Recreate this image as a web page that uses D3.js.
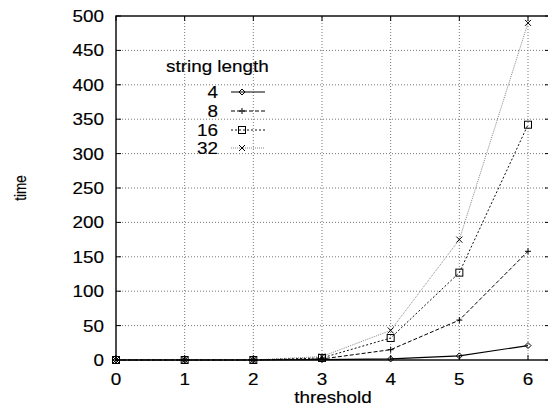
<!DOCTYPE html>
<html>
<head>
<meta charset="utf-8">
<script src="https://cdn.jsdelivr.net/npm/d3@7/dist/d3.min.js"></script>
<style>
  body { margin: 0; background: #fff; }
  svg { display: block; }
  text { font-family: "Liberation Sans", Arial, Helvetica, sans-serif; fill: #000; stroke: #000; stroke-width: 0.15px; }
</style>
</head>
<body>
<script>
// values
const threshold = [0, 1, 2, 3, 4, 5, 6];
const len4  = [0, 0, 0, 0.5, 1.5, 6, 21];
const len8  = [0, 0, 0, 1.5, 15, 58, 158];
const len16 = [0, 0, 0, 3, 32, 127, 342];
const len32 = [0, 0, 0, 5, 43, 175, 490];
const seriesNames = ["4", "8", "16", "32"];
const xTicks = [0, 1, 2, 3, 4, 5, 6];
const yTicks = [0, 50, 100, 150, 200, 250, 300, 350, 400, 450, 500];

const width = 548, height = 408;
const stretch = 1.18; // the original text is a bit wide

const svg = d3.select("body").append("svg")
    .attr("width", width)
    .attr("height", height);

const x = d3.scaleLinear().domain([0, 6]).range([116, 528]);
const y = d3.scaleLinear().domain([0, 500]).range([360, 16]);
const xRight = x(6.32);

function label(g, px, py, str, anchor) {
    return g.append("text")
        .attr("transform", `translate(${px},${py}) scale(${stretch},1)`)
        .attr("text-anchor", anchor)
        .style("font-size", "16px")
        .text(str);
}

// grid
svg.append("g").selectAll("line")
    .data(yTicks.filter(d => d > 0 && d < 500))
    .join("line")
    .attr("x1", x(0)).attr("x2", xRight)
    .attr("y1", d => y(d)).attr("y2", d => y(d))
    .attr("stroke", "#777").attr("stroke-width", 1)
    .attr("stroke-dasharray", "1,2");
svg.append("g").selectAll("line")
    .data(xTicks.filter(d => d > 0))
    .join("line")
    .attr("x1", d => x(d)).attr("x2", d => x(d))
    .attr("y1", y(0)).attr("y2", y(500))
    .attr("stroke", "#777").attr("stroke-width", 1)
    .attr("stroke-dasharray", "1,2");

// ticks, inward on all sides
const tk = svg.append("g").attr("stroke", "#000").attr("stroke-width", 1);
yTicks.forEach(d => {
    tk.append("line").attr("x1", x(0)).attr("x2", x(0) + 5).attr("y1", y(d)).attr("y2", y(d));
    tk.append("line").attr("x1", xRight - 5).attr("x2", xRight).attr("y1", y(d)).attr("y2", y(d));
});
xTicks.forEach(d => {
    tk.append("line").attr("x1", x(d)).attr("x2", x(d)).attr("y1", y(0)).attr("y2", y(0) - 5);
    tk.append("line").attr("x1", x(d)).attr("x2", x(d)).attr("y1", y(500)).attr("y2", y(500) + 5);
});

// frame
svg.append("rect")
    .attr("x", x(0)).attr("y", y(500))
    .attr("width", xRight - x(0)).attr("height", y(0) - y(500))
    .attr("fill", "none").attr("stroke", "#000").attr("stroke-width", 1.4);

// tick labels
const tl = svg.append("g");
yTicks.forEach(d => label(tl, 104, y(d) + 6, d, "end"));
xTicks.forEach(d => label(tl, x(d), 385, d, "middle"));

// axis titles
label(svg, (x(0) + xRight) / 2, 403, "threshold", "middle");
svg.append("text")
    .attr("transform", `translate(26,${(y(0) + y(500)) / 2}) rotate(-90) scale(1,${stretch})`)
    .attr("text-anchor", "middle")
    .style("font-size", "13.5px")
    .text("time");

// markers (open, like gnuplot points)
function marker(g, kind, cx, cy) {
    const s = 3;
    if (kind === "diamond") {
        g.append("path").attr("d", `M${cx},${cy - s}L${cx + s},${cy}L${cx},${cy + s}L${cx - s},${cy}Z`)
            .attr("fill", "none").attr("stroke", "#000");
    } else if (kind === "plus") {
        g.append("path").attr("d", `M${cx - s},${cy}H${cx + s}M${cx},${cy - s}V${cy + s}`)
            .attr("stroke", "#000");
    } else if (kind === "square") {
        g.append("rect").attr("x", cx - 3.5).attr("y", cy - 3.5).attr("width", 7).attr("height", 7)
            .attr("fill", "none").attr("stroke", "#000");
    } else {
        g.append("path").attr("d", `M${cx - s},${cy - s}L${cx + s},${cy + s}M${cx - s},${cy + s}L${cx + s},${cy - s}`)
            .attr("stroke", "#000");
    }
}

const series = [
    { name: seriesNames[0], values: len4,  color: "#000", dash: null,  width: 1.2, kind: "diamond" },
    { name: seriesNames[1], values: len8,  color: "#000", dash: "4,2", width: 1,   kind: "plus" },
    { name: seriesNames[2], values: len16, color: "#111", dash: "2,2", width: 1,   kind: "square" },
    { name: seriesNames[3], values: len32, color: "#888", dash: "1,1", width: 1,   kind: "cross" }
];

const line = d3.line().x(d => x(d[0])).y(d => y(d[1]));

series.slice().reverse().forEach(s => {
    const pts = threshold.map((t, i) => [t, s.values[i]]);
    svg.append("path")
        .attr("d", line(pts))
        .attr("fill", "none")
        .attr("stroke", s.color)
        .attr("stroke-width", s.width)
        .attr("stroke-dasharray", s.dash);
    const mg = svg.append("g").attr("stroke-width", 1);
    pts.forEach(p => marker(mg, s.kind, x(p[0]), y(p[1])));
});

// legend
const lg = svg.append("g");
label(lg, 166, 72, "string length", "start");
const keyY = [98, 117, 136, 154];
series.forEach((s, i) => {
    label(lg, 218, keyY[i], s.name, "end");
    const ly = keyY[i] - 6;
    lg.append("line")
        .attr("x1", 231).attr("x2", 265).attr("y1", ly).attr("y2", ly)
        .attr("stroke", s.color).attr("stroke-width", s.width)
        .attr("stroke-dasharray", s.dash);
    marker(lg, s.kind, 242, ly);
});
</script>
</body>
</html>
